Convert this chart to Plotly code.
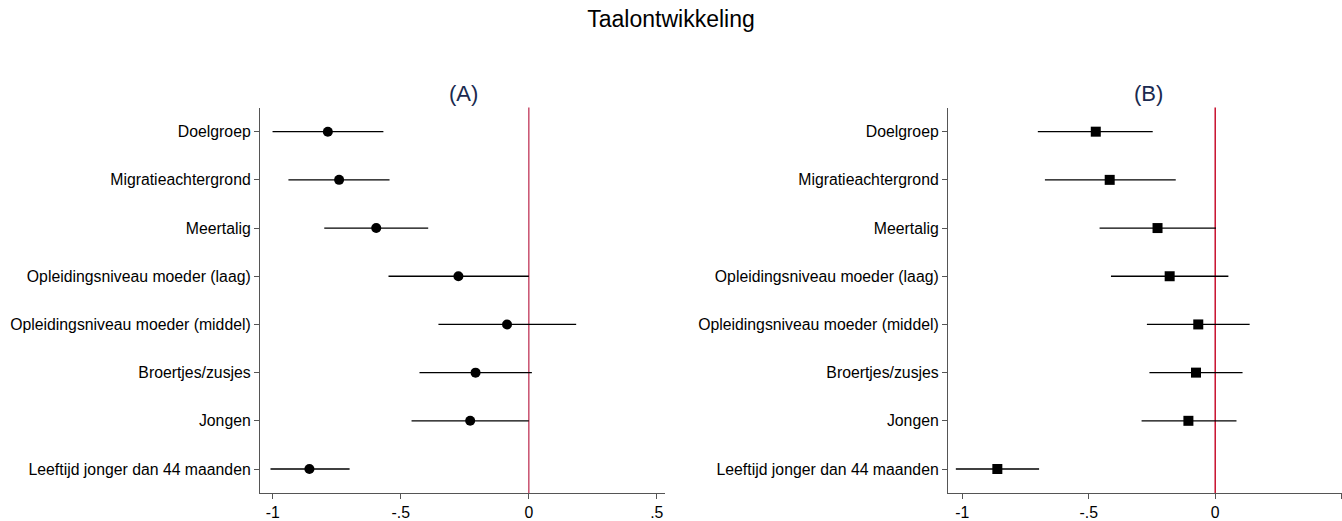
import plotly.graph_objects as go

categories = ["Doelgroep", "Migratieachtergrond", "Meertalig",
              "Opleidingsniveau moeder (laag)", "Opleidingsniveau moeder (middel)",
              "Broertjes/zusjes", "Jongen", "Leeftijd jonger dan 44 maanden"]

a_est = [-0.785, -0.741, -0.596, -0.275, -0.085, -0.208, -0.229, -0.857]
a_lo = [-1.001, -0.939, -0.799, -0.548, -0.353, -0.427, -0.458, -1.009]
a_hi = [-0.568, -0.544, -0.393, 0.000, 0.185, 0.012, 0.000, -0.700]

b_est = [-0.472, -0.417, -0.228, -0.180, -0.067, -0.076, -0.106, -0.861]
b_lo = [-0.701, -0.673, -0.457, -0.412, -0.270, -0.260, -0.291, -1.025]
b_hi = [-0.247, -0.156, 0.003, 0.052, 0.136, 0.108, 0.084, -0.696]

tick_vals = [-1, -0.5, 0, 0.5]
tick_text = ["-1", "-.5", "0", ".5"]

W, H = 1342, 521
FONT = "Liberation Sans, Arial"
fig = go.Figure()

def add_panel(est, lo, hi, xa, ya, symbol, size, ref_color):
    fig.add_shape(type="line", xref=xa, yref=ya + " domain",
                  x0=0, x1=0, y0=0, y1=1, line=dict(color=ref_color, width=1.5), layer="below")
    fig.add_trace(go.Scatter(
        x=est, y=categories, mode="markers",
        marker=dict(symbol=symbol, size=size, color="black"),
        error_x=dict(type="data", symmetric=False,
                     array=[h - e for h, e in zip(hi, est)],
                     arrayminus=[e - l for e, l in zip(est, lo)],
                     color="black", thickness=1.3, width=0),
        xaxis=xa, yaxis=ya, showlegend=False, cliponaxis=False))

add_panel(a_est, a_lo, a_hi, "x", "y", "circle", 10, "#c8506e")
add_panel(b_est, b_lo, b_hi, "x2", "y2", "square", 10, "#c8102e")

def px_x(p):
    return p / W

def px_y(p):
    return 1 - p / H

axis_common = dict(showgrid=False, zeroline=False, showline=True, linecolor="#555555",
                   linewidth=1.2, ticks="outside", ticklen=5, tickcolor="#555555",
                   tickfont=dict(family=FONT, size=15.8, color="black"))

fig.update_layout(
    width=W, height=H,
    margin=dict(l=0, r=0, t=0, b=0),
    paper_bgcolor="white", plot_bgcolor="white",
    title=dict(text="Taalontwikkeling", x=0.5, xanchor="center", y=px_y(19), yanchor="middle",
               font=dict(family=FONT, size=23, color="black")),
    xaxis=dict(domain=[px_x(260), px_x(665)], range=[-1.05, 0.532], tickvals=tick_vals,
               ticktext=tick_text, anchor="y", **axis_common),
    yaxis=dict(domain=[px_y(495), px_y(108)], range=[7.5, -0.5], anchor="x",
               categoryorder="array", categoryarray=categories, **axis_common),
    xaxis2=dict(domain=[px_x(948), 1.0], range=[-1.056, 0.501], tickvals=tick_vals,
                ticktext=tick_text, anchor="y2", **axis_common),
    yaxis2=dict(domain=[px_y(495), px_y(108)], range=[7.5, -0.5], anchor="x2",
                categoryorder="array", categoryarray=categories, **axis_common),
    annotations=[
        dict(text="(A)", x=463, y=94, xref="paper", yref="paper",
             showarrow=False, font=dict(family=FONT, size=22, color="#1a2a50")),
        dict(text="(B)", x=1148, y=94, xref="paper", yref="paper",
             showarrow=False, font=dict(family=FONT, size=22, color="#1a2a50")),
    ],
)
for ann in fig.layout.annotations:
    ann.x = px_x(ann.x)
    ann.y = px_y(ann.y)
    ann.xanchor = "center"
    ann.yanchor = "middle"

fig.write_html("out.html", config={"displayModeBar": False},
               post_script="document.body.style.margin='0';")
